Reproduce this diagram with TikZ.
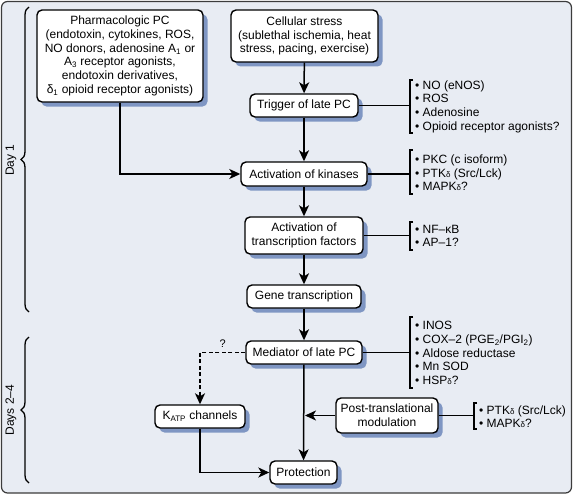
\documentclass[tikz,border=0pt]{standalone}
\usepackage{fontspec}
\setmainfont{Liberation Sans}
\usetikzlibrary{arrows.meta,decorations.pathreplacing}
\definecolor{bgc}{HTML}{E8ECF3}
\definecolor{shc}{HTML}{7F96C3}
\definecolor{framec}{HTML}{3C3C3C}
\newcommand{\sd}{{\fontsize{8}{8}\selectfont δ}}
\begin{document}
\begin{tikzpicture}[x=1pt,y=-1pt,
  every node/.style={font=\fontsize{12}{13.6}\selectfont},
  box/.style={draw=black, line width=1.4pt, fill=white, rounded corners=5pt,
    inner sep=0pt, align=center},
  lst/.style={anchor=west, inner sep=0pt, align=left},
  conn/.style={line width=1.5pt},
  arr/.style={conn, -{Stealth[length=11pt,width=10pt,inset=3pt]}},
  brk/.style={line width=1.1pt},
  dayb/.style={line width=1.3pt, decorate, decoration={brace, amplitude=8pt}},
  shnode/.style={draw=none, fill=shc, rounded corners=5pt, inner sep=0pt}
]
\useasboundingbox (0,0) rectangle (573,495);
\draw[framec, line width=1.2pt, fill=bgc, rounded corners=6pt] (1.5,1.5) rectangle (571.5,493);

% shadows behind the boxes (offset 4.5pt right and down)
\node[shnode, minimum width=166pt, minimum height=92pt] (s1) at (124.5,60.5) {};
\node[shnode, minimum width=147pt, minimum height=52pt] (s2) at (309,40.5) {};
\node[shnode, minimum width=108pt, minimum height=23pt] (s3) at (308.5,110) {};
\node[shnode, minimum width=126pt, minimum height=24pt] (s4) at (308.5,178.5) {};
\node[shnode, minimum width=118pt, minimum height=37pt] (s5) at (308.5,240) {};
\node[shnode, minimum width=114pt, minimum height=23pt] (s6) at (308.5,301) {};
\node[shnode, minimum width=116pt, minimum height=23pt] (s7) at (308.5,357) {};
\node[shnode, minimum width=90pt, minimum height=23pt] (s8) at (204.5,421) {};
\node[shnode, minimum width=102pt, minimum height=35pt] (s9) at (391.5,420) {};
\node[shnode, minimum width=67pt, minimum height=23pt] (s10) at (308,477) {};

% boxes
\node[box, minimum width=166pt, minimum height=92pt, font=\fontsize{12}{13.7}\selectfont] (pharm) at (120,56)
  {Pharmacologic PC\\(endotoxin, cytokines, ROS,\\NO donors, adenosine A\textsubscript{1} or\\A\textsubscript{3} receptor agonists,\\endotoxin derivatives,\\δ\textsubscript{1} opioid receptor agonists)};
\node[box, minimum width=147pt, minimum height=52pt] (cell) at (304.5,36)
  {Cellular stress\\(sublethal ischemia, heat\\stress, pacing, exercise)};
\node[box, minimum width=108pt, minimum height=23pt] (trig) at (304,105.5) {Trigger of late PC};
\node[box, minimum width=126pt, minimum height=24pt] (kin) at (304,174) {Activation of kinases};
\node[box, minimum width=118pt, minimum height=37pt] (tf) at (304,235.5) {Activation of\\transcription factors};
\node[box, minimum width=114pt, minimum height=23pt] (gene) at (304,296.5) {Gene transcription};
\node[box, minimum width=116pt, minimum height=23pt] (med) at (304,352.5) {Mediator of late PC};
\node[box, minimum width=90pt, minimum height=23pt] (katp) at (200,416.5) {K\textsubscript{ATP} channels};
\node[box, minimum width=102pt, minimum height=35pt] (post) at (387,415.5) {Post-translational\\modulation};
\node[box, minimum width=67pt, minimum height=23pt] (prot) at (303.5,472.5) {Protection};

% main arrows
\draw[arr] (cell) -- (trig);
\draw[arr] (trig) -- (kin);
\draw[arr] (kin) -- (tf);
\draw[arr] (tf) -- (gene);
\draw[arr] (gene) -- (med);
\draw[arr] (med) -- (prot);
\draw[arr] (pharm.south) |- (kin.west);
\draw[arr] (katp.south) |- (prot.west);
\draw[arr, dash pattern=on 4pt off 2.5pt] (med.west) -| node[pos=0.25, above=1pt, font=\fontsize{11}{11}\selectfont] (q) {?} (katp.north);
\coordinate (pj) at (305,415.5);
\draw[arr] (post.west) -- (pj);

% lists
\coordinate (b1t) at (410,80);  \coordinate (b1b) at (410,133);
\coordinate (b2t) at (410,150); \coordinate (b2b) at (410,194);
\coordinate (b3t) at (410,222); \coordinate (b3b) at (410,250);
\coordinate (b4t) at (410,317); \coordinate (b4b) at (410,388);
\coordinate (b5t) at (474,403); \coordinate (b5b) at (474,429);
\foreach \t/\b in {b1t/b1b,b2t/b2b,b3t/b3b,b4t/b4b,b5t/b5b}
  \draw[brk] ([xshift=3pt]\t) -- (\t) -- (\b) -- ([xshift=3pt]\b);
\draw[conn] (trig.east) -- (trig.east -| b1t);
\draw[conn] (kin.east) -- (kin.east -| b2t);
\draw[conn] (tf.east) -- (tf.east -| b3t);
\draw[conn] (med.east) -- (med.east -| b4t);
\draw[conn] (post.east) -- (post.east -| b5t);

\node[lst] (l1) at (415,106.5) {• NO (eNOS)\\• ROS\\• Adenosine\\• Opioid receptor agonists?};
\node[lst] (l2) at (415,173) {• PKC (c isoform)\\• PTK\sd\ (Src/Lck)\\• MAPK\sd?};
\node[lst] (l3) at (415,236) {• NF–κB\\• AP–1?};
\node[lst] (l4) at (415,353) {• INOS\\• COX–2 (PGE\textsubscript{2}/PGI\textsubscript{2})\\• Aldose reductase\\• Mn SOD\\• HSP\sd?};
\node[lst] (l5) at (479,416.5) {• PTK\sd\ (Src/Lck)\\• MAPK\sd?};

% day braces
\draw[dayb] (29,312) -- (29,7);
\draw[dayb] (29,483) -- (29,337);
\node[rotate=90] (d1) at (11,160) {Day 1};
\node[rotate=90] (d2) at (11,410) {Days 2–4};
\end{tikzpicture}
\end{document}
